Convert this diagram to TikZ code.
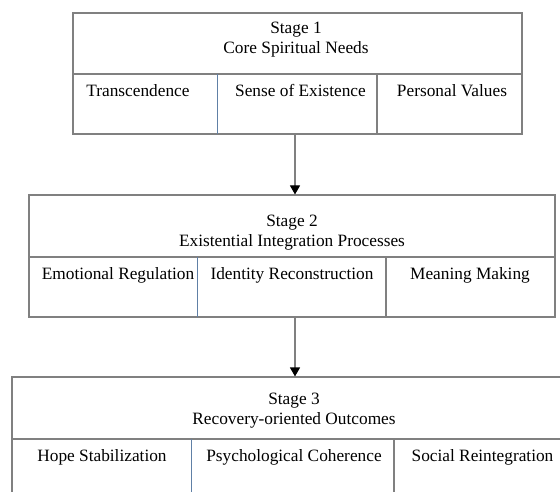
\documentclass[tikz,border=0pt]{standalone}
\usepackage{fontspec}
\setmainfont{Liberation Serif}
\usetikzlibrary{arrows.meta}
\definecolor{rulegray}{RGB}{128,128,128}
\definecolor{ruleblue}{RGB}{96,128,166}
\tikzset{
	stagebox/.style={draw=rulegray,line width=1.1pt,inner sep=0pt,minimum height=121pt},
	flow/.style={draw=rulegray,line width=1.1pt,-{Triangle[length=9pt,width=10pt,color=black]}},
}
\begin{document}
\begin{tikzpicture}[x=1pt,y=-1pt,font=\fontsize{17.3}{20}\selectfont]
	\useasboundingbox (0,0) rectangle (560,492);
	\clip (0,0) rectangle (560,492);
	\node[stagebox,minimum width=449pt] (b1) at (297.5,73.5) {};
	\node[stagebox,minimum width=526pt,minimum height=122pt] (b2) at (292,256) {};
	\node[stagebox,minimum width=564pt,minimum height=122pt] (b3) at (294,438) {};
	\node[align=center] (t1) at (296,40) {Stage 1\\Core Spiritual Needs};
	\node[align=center] (t2) at (292,233) {Stage 2\\Existential Integration Processes};
	\node[align=center] (t3) at (294,411) {Stage 3\\Recovery-oriented Outcomes};
	\draw[rulegray,line width=1.1pt]
	(b1.west |- 0,74)--(b1.east |- 0,74)
	(b2.west |- 0,257)--(b2.east |- 0,257)
	(b3.west |- 0,439)--(b3.east |- 0,439)
	(377,74)--(377,134) (386,257)--(386,317) (394,439)--(394,499);
	\draw[ruleblue,line width=.6pt]
	(217,74)--(217,134) (197,257)--(197,317) (191,439)--(191,499);
	\path
	foreach \x/\i[count=\k] in {138/Transcendence,300.5/Sense of Existence,452/Personal Values} {(\x,97)node[anchor=base](1\k){\i}}
	foreach \x/\i[count=\k] in {118/Emotional Regulation,292/Identity Reconstruction,470/Meaning Making} {(\x,279)node[anchor=base](2\k){\i}}
	foreach \x/\i[count=\k] in {102/Hope Stabilization,294/Psychological Coherence,482.5/Social Reintegration} {(\x,461)node[anchor=base](3\k){\i}};
	\draw[flow] (b1.south -| 295,0)--(b2.north -| 295,0);
	\draw[flow] (b2.south -| 295,0)--(b3.north -| 295,0);
\end{tikzpicture}
\end{document}
